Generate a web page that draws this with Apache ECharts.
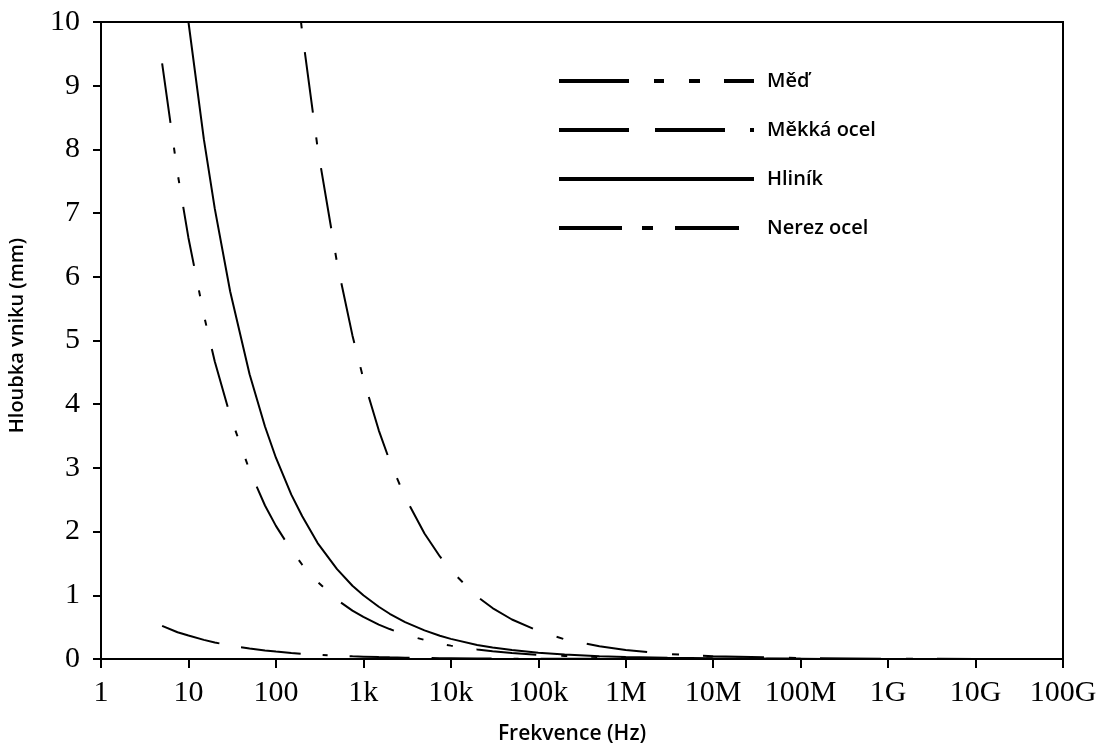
<!DOCTYPE html>
<html>
<head>
<meta charset="utf-8">
<script src="https://cdn.jsdelivr.net/npm/echarts@6/dist/echarts.min.js"></script>
<style>
html,body{margin:0;padding:0;background:#fff;}
#chart{width:1107px;height:749px;}
</style>
</head>
<body>
<div id="chart"></div>
<script>
// Frequencies (Hz)
const freq = [5, 7.5, 10, 15, 20, 30, 50, 75, 100, 150, 200, 300, 500, 750,
  1e3, 1.5e3, 2e3, 3e3, 5e3, 7.5e3, 1e4, 2e4, 3e4, 5e4, 1e5, 2e5, 5e5, 1e6, 3e6,
  1e7, 1e8, 1e9, 1e10, 5e10];

// Penetration depth (mm)
const med = [9.35, 7.63, 6.61, 5.40, 4.67, 3.82, 2.96, 2.41, 2.09, 1.71, 1.48, 1.21, 0.93, 0.76,
  0.66, 0.54, 0.47, 0.38, 0.30, 0.24, 0.21, 0.15, 0.12, 0.093, 0.066, 0.047, 0.030, 0.021, 0.012,
  0.0066, 0.0021, 0.0007, 0.0002, 0.0001];
const mekkaOcel = [0.52, 0.42, 0.37, 0.30, 0.26, 0.21, 0.164, 0.134, 0.116, 0.095, 0.082, 0.067, 0.052, 0.042,
  0.037, 0.030, 0.026, 0.021, 0.016, 0.013, 0.012, 0.008, 0.007, 0.005, 0.004, 0.003, 0.002, 0.001, 0.0007,
  0.0004, 0.0001, 0.00004, 0.00001, 0.00001];
const hlinik = [null, 11.5, 10.0, 8.16, 7.07, 5.77, 4.47, 3.65, 3.16, 2.58, 2.24, 1.82, 1.41, 1.15,
  1.0, 0.82, 0.71, 0.58, 0.45, 0.365, 0.316, 0.22, 0.18, 0.14, 0.10, 0.071, 0.045, 0.032, 0.018,
  0.010, 0.003, 0.001, 0.0003, 0.00014];
const nerezOcel = [null, null, null, null, null, null, null, null, null, 11.35, 9.83, 8.02, 6.22, 5.08,
  4.40, 3.59, 3.11, 2.54, 1.97, 1.61, 1.39, 0.98, 0.80, 0.62, 0.44, 0.31, 0.20, 0.14, 0.080,
  0.044, 0.014, 0.0044, 0.0014, 0.0006];

const seriesNames = ['Měď', 'Měkká ocel', 'Hliník', 'Nerez ocel'];
const xTickLabels = ['1', '10', '100', '1k', '10k', '100k', '1M', '10M', '100M', '1G', '10G', '100G'];
const yTickLabels = ['0', '1', '2', '3', '4', '5', '6', '7', '8', '9', '10'];

function pairs(vals) {
  return freq.map((f, i) => [f, vals[i]]);
}

const chart = echarts.init(document.getElementById('chart'), null, {renderer: 'canvas'});

const serifFont = '"Liberation Serif", "DejaVu Serif", serif';
const sansFont = '"Open Sans", "Noto Sans", sans-serif';

const lineBase = {type: 'line', showSymbol: false, symbol: 'none', clip: true, animation: false};

const option = {
  backgroundColor: '#ffffff',
  animation: false,
  grid: {
    left: 101, right: 44, top: 22, bottom: 90,
    containLabel: false,
    outerBoundsMode: 'none',
    show: true, borderColor: '#000', borderWidth: 2, backgroundColor: 'transparent'
  },
  legend: {
    orient: 'vertical',
    left: 557,
    top: 71,
    padding: 0,
    itemWidth: 195,
    itemHeight: 14,
    itemGap: 29,
    itemStyle: {opacity: 0},
    textStyle: {fontFamily: sansFont, fontSize: 20, fontWeight: 600, lineHeight: 20, color: '#000', padding: [0, 0, 0, 8]},
    data: [
      {name: seriesNames[0], lineStyle: {width: 4, color: '#000', type: [70, 25, 10, 25, 11, 24, 30, 200]}},
      {name: seriesNames[1], lineStyle: {width: 4, color: '#000', type: [70, 26, 70, 25, 4, 200]}},
      {name: seriesNames[2], lineStyle: {width: 4, color: '#000', type: 'solid'}},
      {name: seriesNames[3], lineStyle: {width: 4, color: '#000', type: [63, 20, 11, 22, 64, 200]}}
    ]
  },
  xAxis: {
    type: 'log',
    logBase: 10,
    min: 1,
    max: 1e11,
    interval: 1,
    name: 'Frekvence (Hz)',
    nameLocation: 'middle',
    nameGap: 65,
    nameTextStyle: {fontFamily: sansFont, fontSize: 21, fontWeight: 600, color: '#000', padding: [0, 20, 0, 0]},
    axisLine: {show: true, onZero: false, lineStyle: {color: '#000', width: 2}},
    axisTick: {show: true, inside: false, length: 9, lineStyle: {color: '#000', width: 2}},
    minorTick: {show: false},
    splitLine: {show: false},
    axisLabel: {
      margin: 19,
      fontFamily: serifFont, fontSize: 30, color: '#000',
      formatter: function (v) {
        const i = Math.round(Math.log10(v));
        return xTickLabels[i] !== undefined ? xTickLabels[i] : '';
      }
    }
  },
  yAxis: {
    type: 'value',
    min: 0,
    max: 10,
    interval: 1,
    name: 'Hloubka vniku (mm)',
    nameLocation: 'middle',
    nameGap: 74,
    nameRotate: 90,
    nameTextStyle: {fontFamily: sansFont, fontSize: 20, fontWeight: 600, color: '#000', padding: [0, 0, 0, 10]},
    axisLine: {show: true, lineStyle: {color: '#000', width: 2}},
    axisTick: {show: true, inside: false, length: 8, lineStyle: {color: '#000', width: 2}},
    splitLine: {show: false},
    axisLabel: {
      margin: 21,
      fontFamily: serifFont, fontSize: 30, color: '#000',
      formatter: function (v) { return yTickLabels[Math.round(v)]; }
    }
  },
  series: [
    Object.assign({}, lineBase, {name: seriesNames[0], data: pairs(med),
      lineStyle: {color: '#000', width: 2, type: [60, 25, 6, 24, 6, 24]}, itemStyle: {color: '#000'}}),
    Object.assign({}, lineBase, {name: seriesNames[1], data: pairs(mekkaOcel),
      lineStyle: {color: '#000', width: 2, type: [60, 22, 60, 22, 5, 22]}, itemStyle: {color: '#000'}}),
    Object.assign({}, lineBase, {name: seriesNames[2], data: pairs(hlinik),
      lineStyle: {color: '#000', width: 2, type: 'solid'}, itemStyle: {color: '#000'}}),
    Object.assign({}, lineBase, {name: seriesNames[3], data: pairs(nerezOcel),
      lineStyle: {color: '#000', width: 2, type: [61, 25, 7, 24]}, itemStyle: {color: '#000'}})
  ]
};

chart.setOption(option);
</script>
</body>
</html>
